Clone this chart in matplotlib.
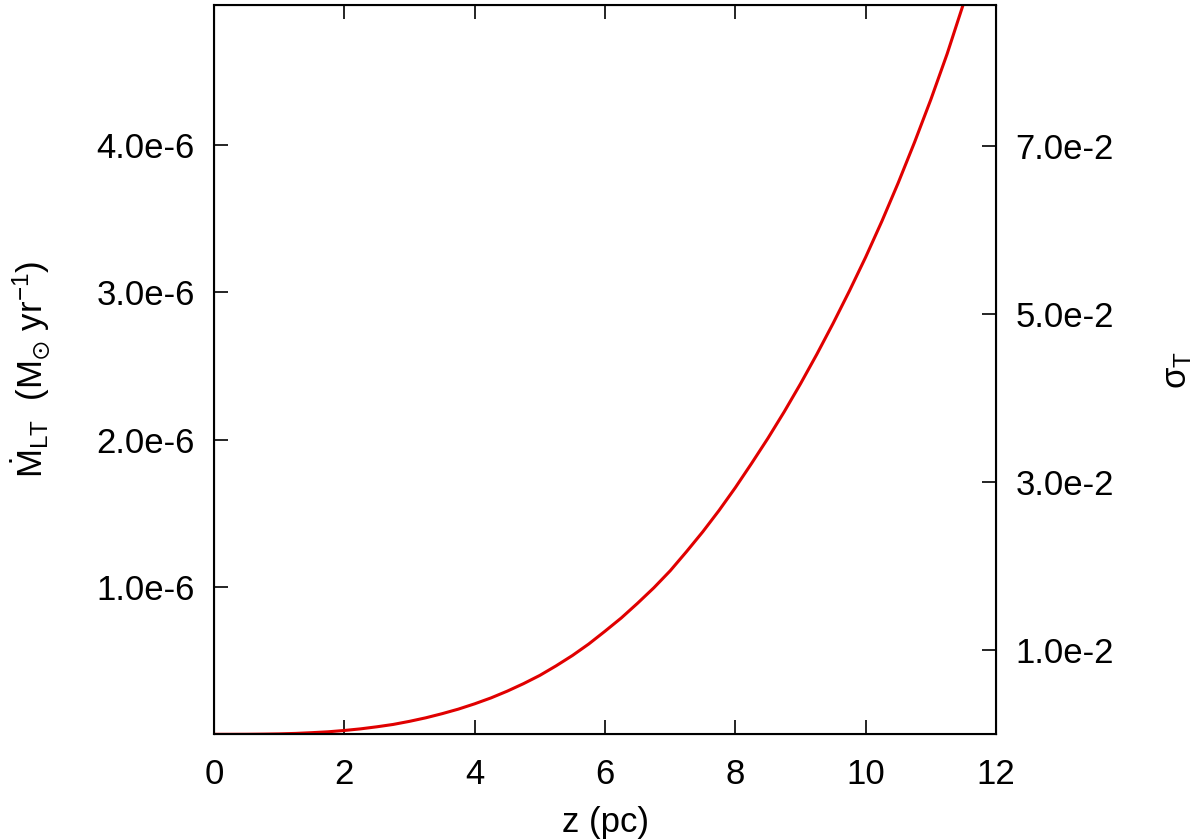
import matplotlib
matplotlib.use("Agg")
import matplotlib.pyplot as plt

plt.rcParams['font.family'] = ['Liberation Sans', 'DejaVu Sans']
plt.rcParams['mathtext.fontset'] = 'custom'
plt.rcParams['mathtext.rm'] = 'Liberation Sans'
plt.rcParams['mathtext.default'] = 'regular'

# Mass-loss rate (units of 1e-6 Msun/yr)
z_pc = [0, 0.25, 0.5, 0.75, 1, 1.25, 1.5, 1.75, 2, 2.25, 2.5, 2.75,
        3, 3.25, 3.5, 3.75, 4, 4.25, 4.5, 4.75, 5, 5.25, 5.5, 5.75,
        6, 6.25, 6.5, 6.75, 7, 7.25, 7.5, 7.75, 8, 8.25, 8.5, 8.75,
        9, 9.25, 9.5, 9.75, 10, 10.25, 10.5, 10.75, 11, 11.25, 11.5]
mdot_1e6 = [0, 0.0001, 0.0004, 0.0014, 0.003, 0.006, 0.011, 0.017,
            0.026, 0.037, 0.051, 0.067, 0.088, 0.112, 0.140, 0.171,
            0.207, 0.247, 0.293, 0.344, 0.400, 0.465, 0.535, 0.613,
            0.700, 0.790, 0.890, 0.995, 1.110, 1.240, 1.375, 1.520,
            1.675, 1.840, 2.010, 2.190, 2.380, 2.580, 2.790, 3.010,
            3.240, 3.485, 3.745, 4.020, 4.310, 4.620, 4.960]
mdot = [m * 1e-6 for m in mdot_1e6]

left_ticks = [1.0e-6, 2.0e-6, 3.0e-6, 4.0e-6]
left_labels = ['1.0e-6', '2.0e-6', '3.0e-6', '4.0e-6']
right_ticks = [1.0e-2, 3.0e-2, 5.0e-2, 7.0e-2]
right_labels = ['1.0e-2', '3.0e-2', '5.0e-2', '7.0e-2']
x_ticks = [0, 2, 4, 6, 8, 10, 12]

fs = 25

fig = plt.figure(figsize=(12, 8.4), dpi=100)
ax = fig.add_axes([214 / 1200, 1 - 734.3 / 840, (996 - 214) / 1200, (734.3 - 5.3) / 840])

ax.plot(z_pc, mdot, color='#e00000', lw=2.2, solid_joinstyle='round')
ax.set_xlim(0, 12)
ax.set_ylim(0, 4.95e-6)
ax.set_xticks(x_ticks)
ax.set_xticklabels([str(t) for t in x_ticks])
ax.set_yticks(left_ticks)
ax.set_yticklabels(left_labels)
ax.tick_params(axis='both', direction='in', length=10, width=1.2,
               labelsize=fs, pad=14, top=True, right=False)
ax.tick_params(axis='x', pad=17)
for sp in ax.spines.values():
    sp.set_linewidth(1.5)

ax.set_xlabel('z (pc)', fontsize=fs, labelpad=11)
ax.set_ylabel(r'$\dot{M}_{LT}$  (M$_{\odot}$ yr$^{-1}$)', fontsize=fs, labelpad=32)

ax2 = ax.twinx()
ax2.set_ylim(0, 0.0867)
ax2.set_yticks(right_ticks)
ax2.set_yticklabels(right_labels)
ax2.tick_params(axis='y', direction='in', length=10, width=1.2,
                labelsize=fs, pad=14)
ax2.set_ylabel(r'$\sigma_T$', fontsize=fs, rotation=90, labelpad=34)

fig.savefig('out.png', dpi=100)
